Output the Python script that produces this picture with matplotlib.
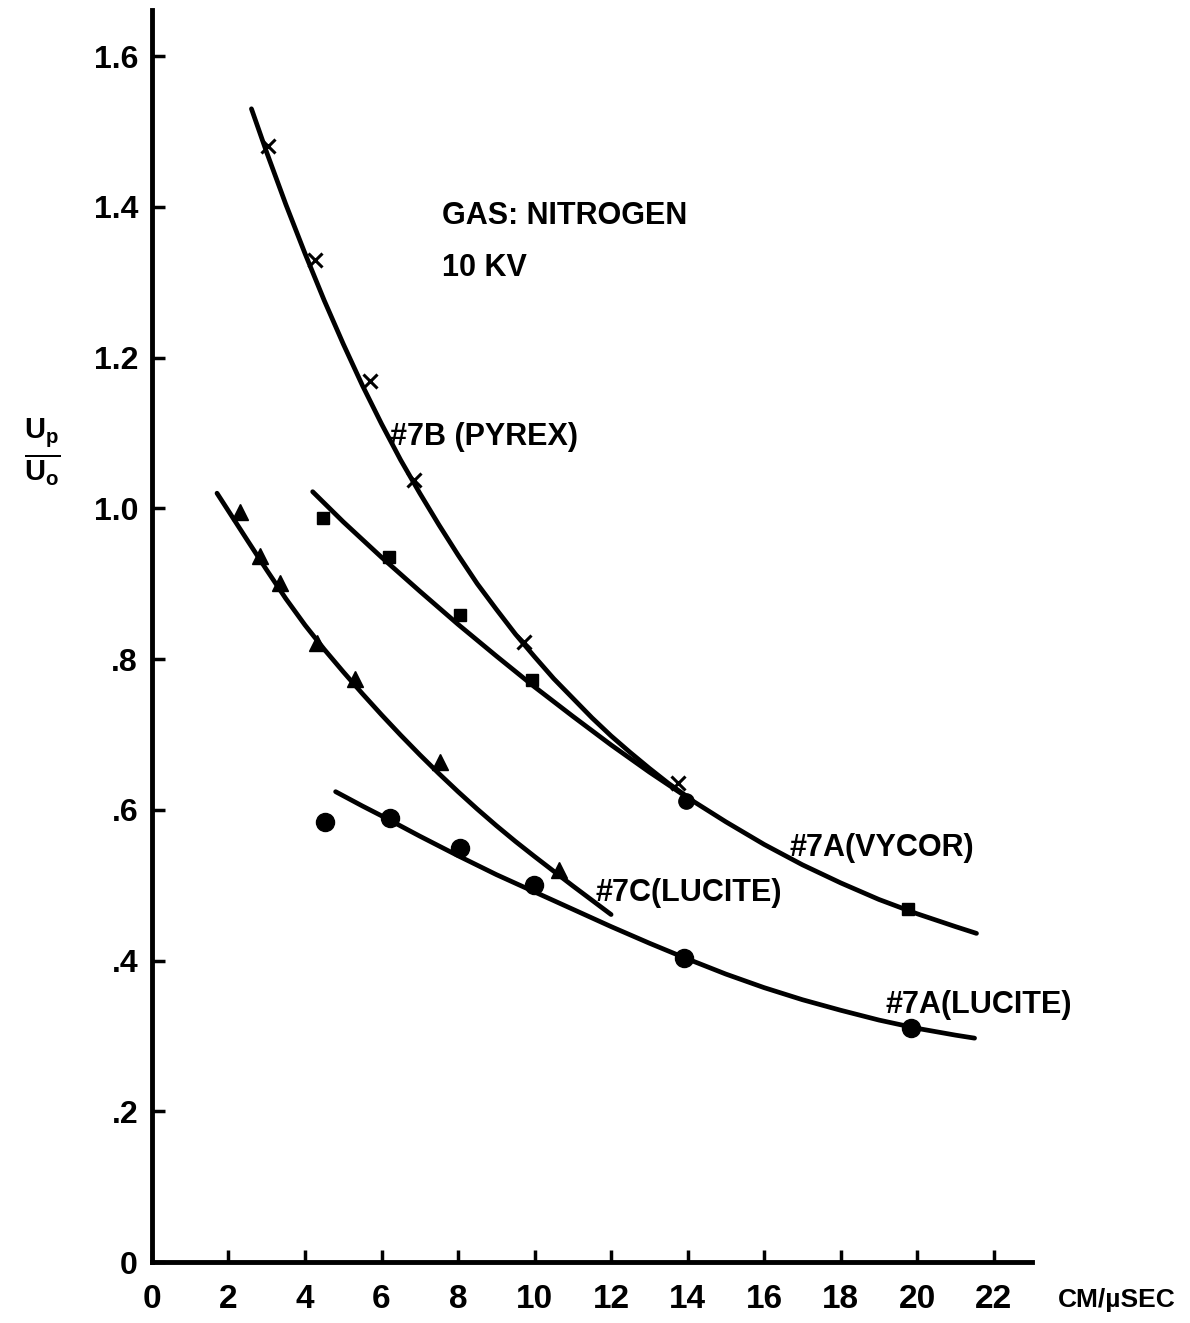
import matplotlib
matplotlib.use("Agg")
import matplotlib.pyplot as plt

plt.rcParams['font.family'] = ['Liberation Sans', 'DejaVu Sans']
plt.rcParams['font.weight'] = 'bold'
plt.rcParams['mathtext.fontset'] = 'custom'
plt.rcParams['mathtext.rm'] = 'Liberation Sans:bold'
plt.rcParams['mathtext.it'] = 'Liberation Sans:bold'
plt.rcParams['mathtext.bf'] = 'Liberation Sans:bold'

# measured points (velocity in cm/usec, Up/Uo)
pyrex_x = [3.04, 4.27, 5.69, 6.84, 9.72, 13.74]
pyrex_y = [1.480, 1.329, 1.169, 1.037, 0.823, 0.635]

vycor_x = [4.47, 6.20, 8.05, 9.94, 19.76]
vycor_y = [0.987, 0.935, 0.859, 0.772, 0.469]
vycor_round_x = [13.95]
vycor_round_y = [0.612]

lucite7c_x = [2.30, 2.83, 3.35, 4.31, 5.31, 7.54, 10.64]
lucite7c_y = [0.995, 0.937, 0.901, 0.821, 0.774, 0.664, 0.520]

lucite7a_x = [4.53, 6.23, 8.06, 9.98, 13.91, 19.84]
lucite7a_y = [0.584, 0.589, 0.549, 0.500, 0.403, 0.310]

# hand-drawn fit curves, read along their length
pyrex_fit_x = [2.6, 3.0, 3.5, 4.0, 4.5, 5.0, 5.5, 6.0, 6.5, 7.0, 7.5, 8.0,
               8.5, 9.0, 9.5, 10.0, 10.5, 11.0, 11.5, 12.0, 12.5, 13.0,
               13.5, 14.0]
pyrex_fit_y = [1.530, 1.472, 1.403, 1.338, 1.276, 1.218, 1.163, 1.112, 1.064,
               1.020, 0.978, 0.938, 0.900, 0.866, 0.833, 0.803, 0.774, 0.748,
               0.722, 0.698, 0.676, 0.655, 0.635, 0.617]

vycor_fit_x = [4.2, 5.0, 6.0, 7.0, 8.0, 9.0, 10.0, 11.0, 12.0, 13.0, 14.0,
               15.0, 16.0, 17.0, 18.0, 19.0, 20.0, 21.0, 21.55]
vycor_fit_y = [1.022, 0.982, 0.935, 0.890, 0.846, 0.804, 0.763, 0.724, 0.686,
               0.650, 0.616, 0.584, 0.554, 0.527, 0.503, 0.481, 0.462, 0.445,
               0.436]

lucite7c_fit_x = [1.7, 2.5, 3.0, 3.5, 4.0, 4.5, 5.0, 5.5, 6.0, 6.5, 7.0,
                  7.5, 8.0, 8.5, 9.0, 9.5, 10.0, 11.0, 12.0]
lucite7c_fit_y = [1.020, 0.957, 0.918, 0.880, 0.845, 0.813, 0.783, 0.754,
                  0.726, 0.699, 0.673, 0.648, 0.624, 0.601, 0.579, 0.558,
                  0.538, 0.499, 0.461]

lucite7a_fit_x = [4.8, 5.5, 6.0, 7.0, 8.0, 9.0, 10.0, 11.0, 12.0, 13.0, 14.0,
                  15.0, 16.0, 17.0, 18.0, 19.0, 20.0, 21.0, 21.5]
lucite7a_fit_y = [0.624, 0.605, 0.592, 0.565, 0.539, 0.514, 0.491, 0.468,
                  0.445, 0.423, 0.402, 0.382, 0.364, 0.348, 0.334, 0.321,
                  0.310, 0.301, 0.297]

x_ticks = [0, 2, 4, 6, 8, 10, 12, 14, 16, 18, 20, 22]
y_ticks = [0, 0.2, 0.4, 0.6, 0.8, 1.0, 1.2, 1.4, 1.6]
y_tick_labels = ['0', '.2', '.4', '.6', '.8', '1.0', '1.2', '1.4', '1.6']

fig = plt.figure(figsize=(11.9, 13.23), dpi=100)
ax = fig.add_axes([0.1277, 0.0461, 0.7395, 0.9463])

lw = 3.4
for fx, fy in [(pyrex_fit_x, pyrex_fit_y), (vycor_fit_x, vycor_fit_y),
               (lucite7c_fit_x, lucite7c_fit_y), (lucite7a_fit_x, lucite7a_fit_y)]:
    ax.plot(fx, fy, color='black', lw=lw, solid_capstyle='round',
            solid_joinstyle='round')

ax.plot(pyrex_x, pyrex_y, 'x', color='black', ms=10, mew=2.2)
ax.plot(vycor_x, vycor_y, 's', color='black', ms=8)
ax.plot(vycor_round_x, vycor_round_y, 'o', color='black', ms=11)
ax.plot(lucite7c_x, lucite7c_y, '^', color='black', ms=11)
ax.plot(lucite7a_x, lucite7a_y, 'o', color='black', ms=13)

ax.set_xlim(0, 23.0)
ax.set_ylim(0, 1.661)
ax.spines['top'].set_visible(False)
ax.spines['right'].set_visible(False)
ax.spines['left'].set_linewidth(3.5)
ax.spines['bottom'].set_linewidth(3.5)

ax.set_xticks(x_ticks)
ax.set_xticklabels([str(t) for t in x_ticks])
ax.set_yticks(y_ticks)
ax.set_yticklabels(y_tick_labels)
ax.tick_params(axis='both', direction='in', length=9, width=2.5)
ax.tick_params(axis='x', labelsize=24, pad=16)
ax.tick_params(axis='y', labelsize=23, pad=10)

# curve labels and run conditions
txt = dict(fontsize=22, fontweight='bold', va='center', ha='left')
ax.text(7.59, 1.388, 'GAS: NITROGEN', **txt)
ax.text(7.59, 1.319, '10 KV', **txt)
ax.text(6.23, 1.095, '#7B (PYREX)', **txt)
ax.text(16.65, 0.549, '#7A(VYCOR)', **txt)
ax.text(11.60, 0.490, '#7C(LUCITE)', **txt)
ax.text(19.16, 0.341, '#7A(LUCITE)', **txt)

fig.text(1058 / 1190, 1 - 1300 / 1323, 'CM/\u00b5SEC', fontsize=19,
         fontweight='bold', ha='left', va='center')
fig.text(42 / 1190, 1 - 452 / 1323, r'$\frac{U_p}{U_o}$', fontsize=30,
         ha='center', va='center')

fig.savefig('out.png', dpi=100)
